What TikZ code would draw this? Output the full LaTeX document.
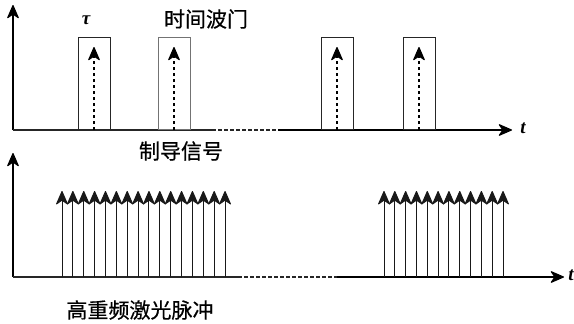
\documentclass[tikz,border=0pt]{standalone}
\usepackage{fontspec}
\newfontfamily\cjk[FakeBold=0.6]{Noto Sans CJK SC}
\newfontfamily\grk{Liberation Serif}
\usetikzlibrary{arrows.meta}
\tikzset{
  tip/.tip={Stealth[length=15pt,width=13pt,inset=4.5pt,round]},
  axis/.style={line width=1.1pt,-tip},
  base/.style={line width=1.1pt, draw=black!85},
  gap/.style={line width=1.1pt, draw=black!85, dash pattern=on 3.5pt off 2.5pt},
  gate/.style={draw=black!80, line width=0.8pt, minimum width=32pt, minimum height=92pt, inner sep=0pt, anchor=south},
  trig/.style={line width=1.1pt, dash pattern=on 3.5pt off 2.5pt, -tip},
  pulse/.style={line width=1pt, draw=black!90, -tip},
  lbl/.style={font=\cjk\fontsize{21}{21}\selectfont, inner sep=0pt},
  var/.style={font=\grk\fontsize{19}{19}\selectfont\bfseries\itshape, inner sep=0pt}
}
\begin{document}
\begin{tikzpicture}[x=1pt,y=-1pt]
\useasboundingbox (0,0) rectangle (574,324);
% ---------- top panel ----------
\coordinate (o1) at (13,130);
\coordinate (y1) at (13,5);
\coordinate (d1a) at (212,130);
\coordinate (d1b) at (278,130);
\coordinate (x1) at (512,130);
\draw[axis] (o1) -- (y1);
\draw[base] (o1) -- (d1a);
\draw[gap] (d1a) -- (d1b);
\draw[axis] (d1b) -- (x1);
\foreach \i/\x/\c in {1/94/black!85, 2/174/black!55, 3/337/black!85, 4/419/black!85}{
  \node[gate, draw=\c] (g\i) at (\x,130) {};
  \coordinate (gb\i) at (\x,130);
  \coordinate (gt\i) at (\x,47);
  \draw[trig] (gb\i) -- (gt\i);
}
\node[var] (tau) at (86,20) {τ};
\node[lbl] (gatelbl) at (206,19) {时间波门};
\node[var] (t1) at (523,128) {t};
\node[lbl] (guide) at (181,151) {制导信号};
% ---------- bottom panel ----------
\coordinate (o2) at (13,277);
\coordinate (y2) at (13,153);
\coordinate (d2a) at (238,277);
\coordinate (d2b) at (337,277);
\coordinate (x2) at (564,277);
\draw[axis] (o2) -- (y2);
\draw[base] (o2) -- (d2a);
\draw[gap] (d2a) -- (d2b);
\draw[axis] (d2b) -- (x2);
\foreach \k in {0,...,15}{
  \pgfmathsetmacro\xx{62+\k*10.87}
  \coordinate (pa\k) at (\xx,277);
  \coordinate (pb\k) at (\xx,191);
  \draw[pulse] (pa\k) -- (pb\k);
}
\foreach \k in {0,...,11}{
  \pgfmathsetmacro\xx{384+\k*10.82}
  \coordinate (qa\k) at (\xx,277);
  \coordinate (qb\k) at (\xx,191);
  \draw[pulse] (qa\k) -- (qb\k);
}
\node[var] (t2) at (571,275) {t};
\node[lbl] (laser) at (140,310) {高重频激光脉冲};
\end{tikzpicture}
\end{document}
